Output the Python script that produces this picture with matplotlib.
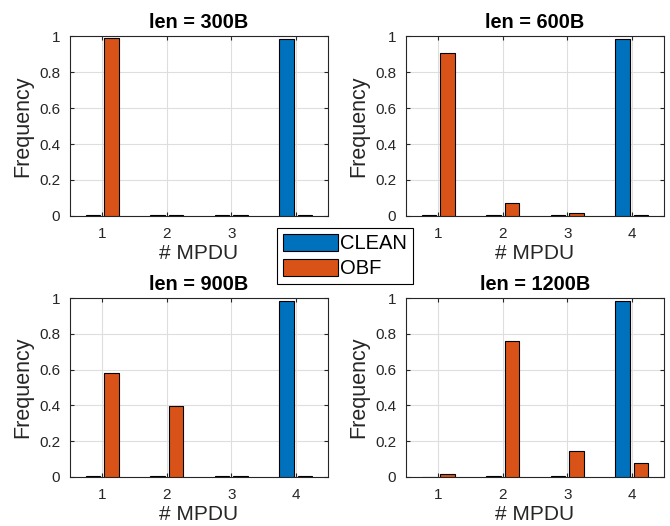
import numpy as np
import matplotlib
matplotlib.use("Agg")
import matplotlib.pyplot as plt
from matplotlib.patches import Patch

plt.rcParams['font.family'] = ['Liberation Sans', 'DejaVu Sans']

mpdu = [1, 2, 3, 4]
titles = ["len = 300B", "len = 600B", "len = 900B", "len = 1200B"]
clean_300 = [0.003, 0.003, 0.003, 0.985]
obf_300 = [0.988, 0.003, 0.003, 0.003]
clean_600 = [0.003, 0.003, 0.004, 0.982]
obf_600 = [0.908, 0.07, 0.015, 0.005]
clean_900 = [0.003, 0.003, 0.003, 0.983]
obf_900 = [0.583, 0.398, 0.006, 0.006]
clean_1200 = [0.002, 0.003, 0.005, 0.982]
obf_1200 = [0.014, 0.76, 0.148, 0.077]

clean_all = [clean_300, clean_600, clean_900, clean_1200]
obf_all = [obf_300, obf_600, obf_900, obf_1200]

BLUE = '#0072BD'
ORANGE = '#D95319'
DARK = '#262626'

fig = plt.figure(figsize=(6.7, 5.26), dpi=100)
positions = [
    [0.1045, 0.5894, 0.385, 0.342],
    [0.606, 0.5894, 0.385, 0.342],
    [0.1045, 0.0932, 0.385, 0.340],
    [0.606, 0.0932, 0.385, 0.340],
]

x = np.array(mpdu, dtype=float)
gw = 2 / 3.5
bw = 0.8 * gw / 2
off = gw / 4
for pos, title, c, o in zip(positions, titles, clean_all, obf_all):
    ax = fig.add_axes(pos)
    ax.bar(x - off, c, bw, color=BLUE, edgecolor='black', linewidth=0.8, zorder=3)
    ax.bar(x + off, o, bw, color=ORANGE, edgecolor='black', linewidth=0.8, zorder=3)
    ax.set_xlim(0.5, 4.5)
    ax.set_ylim(0, 1)
    ax.set_xticks(mpdu)
    ax.set_yticks([0, 0.2, 0.4, 0.6, 0.8, 1])
    ax.set_yticklabels(['0', '0.2', '0.4', '0.6', '0.8', '1'])
    ax.grid(True, color='#dedede', linewidth=0.8, zorder=0)
    ax.tick_params(direction='in', length=3, labelsize=11, colors=DARK,
                   top=True, right=True)
    ax.tick_params(axis='y', pad=7)
    ax.tick_params(axis='x', pad=8)
    for s in ax.spines.values():
        s.set_color(DARK)
        s.set_linewidth(0.8)
    ax.set_xlabel('# MPDU', fontsize=15, color=DARK, labelpad=2)
    ax.set_ylabel('Frequency', fontsize=15.5, color=DARK, labelpad=4)
    ax.set_title(title, fontsize=14.3, fontweight='bold', color='black', pad=6)

handles = [Patch(facecolor=BLUE, edgecolor='black', linewidth=0.8, label='CLEAN'),
           Patch(facecolor=ORANGE, edgecolor='black', linewidth=0.8, label='OBF')]
leg = fig.legend(handles=handles, loc='upper left', bbox_to_anchor=(0.414, 0.567),
                 fontsize=14.5, frameon=True, fancybox=False, edgecolor='black',
                 handlelength=2.7, handleheight=0.9, handletextpad=0.1,
                 borderpad=0.3, labelspacing=0.3, borderaxespad=0)
leg.get_frame().set_linewidth(0.8)
leg.get_frame().set_alpha(1)
leg.set_zorder(10)

fig.savefig('out.png', dpi=100)
